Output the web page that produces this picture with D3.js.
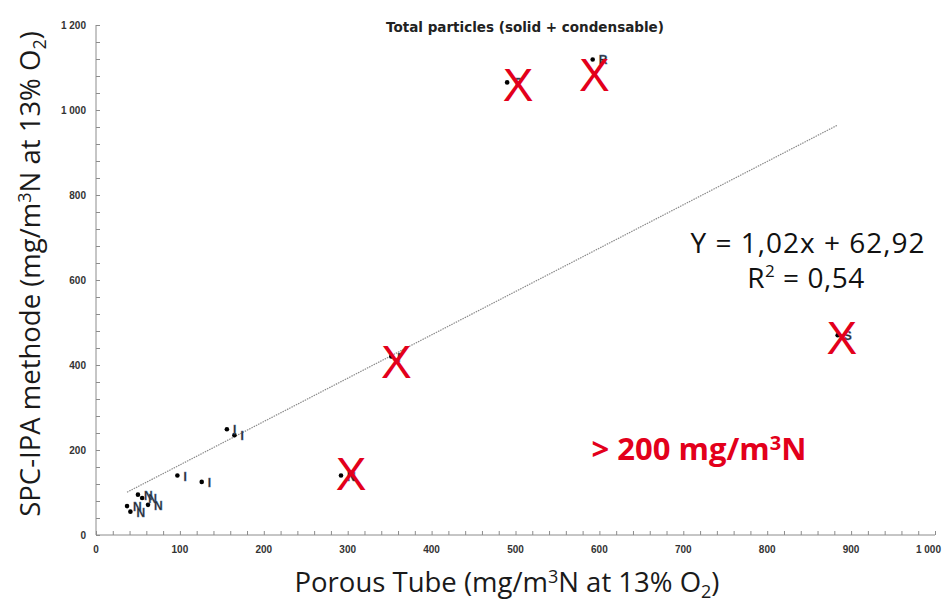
<!DOCTYPE html>
<html><head><meta charset="utf-8">
<script src="https://cdn.jsdelivr.net/npm/d3@7"></script>
<style>body{margin:0;background:#fff}svg{display:block}</style>
</head><body>
<script>
// Data
const xValues = [37, 41, 50, 55, 62, 97, 126, 156, 165, 292, 352, 490, 592, 884];
const yValues = [68, 55, 95, 87, 71, 140, 125, 249, 235, 140, 420, 1065, 1119, 470];
const pointLabels = ["N", "N", "N", "N", "N", "I", "I", "I", "I", "N", "I", "T", "R", "S"];
const crossX = [503, 594, 358, 304, 889];
const crossY = [1059, 1082, 407, 143, 463];
const xTicks = [0, 100, 200, 300, 400, 500, 600, 700, 800, 900, 1000];
const yTicks = [0, 200, 400, 600, 800, 1000, 1200];
const slope = 1.02, intercept = 62.92;

const W = 943, H = 609;
const svg = d3.select("body").append("svg").attr("width", W).attr("height", H);
const x = d3.scaleLinear().domain([0, 1000]).range([96, 935]);
const y = d3.scaleLinear().domain([0, 1200]).range([535, 25]);
const fmt = v => d3.format(",")(v).replace(",", " ");
const axisColor = "#8c8c8c";

// minor ticks
const gx = svg.append("g").attr("transform", `translate(0,${y(0)})`)
  .call(d3.axisBottom(x).tickValues(d3.range(0, 1001, 20)).tickSize(-4).tickFormat(""));
const gy = svg.append("g").attr("transform", `translate(${x(0)},0)`)
  .call(d3.axisLeft(y).tickValues(d3.range(0, 1201, 40)).tickSize(-4).tickFormat(""));
[gx, gy].forEach(g => {
  g.selectAll("path.domain").attr("stroke", axisColor);
  g.selectAll("line").attr("stroke", axisColor);
});
gx.select("path.domain").attr("d", `M${x(0)},0H${x(1000)}`);
gy.select("path.domain").attr("d", `M0,${y(0)}V${y(1200)}`);

// tick labels
svg.append("g").selectAll("text").data(xTicks).join("text")
  .attr("x", d => d === 1000 ? 941 : x(d)).attr("y", 553)
  .attr("text-anchor", d => d === 1000 ? "end" : "middle")
  .attr("font-family", "Liberation Sans Narrow, Liberation Sans, sans-serif").attr("font-weight", "bold")
  .attr("font-size", 10).attr("fill", "#333").text(fmt);
svg.append("g").selectAll("text").data(yTicks).join("text")
  .attr("x", 86).attr("y", d => y(d) + 3.5).attr("text-anchor", "end")
  .attr("font-family", "Liberation Sans Narrow, Liberation Sans, sans-serif").attr("font-weight", "bold")
  .attr("font-size", 10).attr("fill", "#333").text(fmt);

// trend line
const xMin = d3.min(xValues), xMax = d3.max(xValues);
svg.append("line")
  .attr("x1", x(xMin)).attr("y1", y(slope * xMin + intercept))
  .attr("x2", x(xMax)).attr("y2", y(slope * xMax + intercept))
  .attr("stroke", "#8a8a8a").attr("stroke-width", 1.2).attr("stroke-dasharray", "1.5,1");

// points
const pts = xValues.map((v, i) => ({x: v, y: yValues[i], l: pointLabels[i]}));
svg.append("g").selectAll("circle").data(pts).join("circle")
  .attr("cx", d => x(d.x)).attr("cy", d => y(d.y)).attr("r", 2.3).attr("fill", "#000");
svg.append("g").selectAll("text").data(pts).join("text")
  .attr("x", d => x(d.x) + 6).attr("y", d => y(d.y) + 5)
  .attr("font-family", "Liberation Sans, sans-serif").attr("font-weight", "bold")
  .attr("font-size", 12).attr("fill", "#2b2b2b").attr("stroke", "#4a6fa5").attr("stroke-width", 0.3)
  .text(d => d.l);

// red crosses
svg.append("g").selectAll("text").data(crossX.map((v, i) => ({x: v, y: crossY[i]}))).join("text")
  .attr("x", d => x(d.x)).attr("y", d => y(d.y) + 16).attr("text-anchor", "middle")
  .attr("font-family", "Liberation Sans, sans-serif").attr("font-size", 46)
  .attr("fill", "#e3001b").text("X");

// title
svg.append("text").attr("x", 525).attr("y", 32).attr("text-anchor", "middle")
  .attr("font-family", "DejaVu Sans, sans-serif").attr("font-weight", "bold").attr("font-size", 13.5)
  .attr("fill", "#222").text("Total particles (solid + condensable)");

// equation
const eq = svg.append("g").attr("font-family", "Open Sans, sans-serif").attr("font-size", 28)
  .attr("fill", "#111").attr("text-anchor", "middle");
eq.append("text").attr("x", 808).attr("y", 253).attr("letter-spacing", 1).text("Y = 1,02x + 62,92");
const r2 = eq.append("text").attr("x", 806).attr("y", 288).attr("letter-spacing", 0.5);
r2.append("tspan").text("R");
r2.append("tspan").attr("font-size", 17).attr("dy", -11).text("2");
r2.append("tspan").attr("dy", 11).text(" = 0,54");

// > 200 annotation
const ann = svg.append("text").attr("x", 699).attr("y", 460).attr("text-anchor", "middle")
  .attr("font-family", "Open Sans, sans-serif").attr("font-weight", "bold").attr("font-size", 31).attr("fill", "#e3001b");
ann.append("tspan").text("> 200 mg/m");
ann.append("tspan").attr("font-size", 20).attr("dy", -10).text("3");
ann.append("tspan").attr("dy", 10).text("N");

// axis titles
const xt = svg.append("text").attr("x", 507).attr("y", 592).attr("text-anchor", "middle")
  .attr("font-family", "Open Sans, sans-serif").attr("font-size", 27.5).attr("fill", "#1a1a1a");
xt.append("tspan").text("Porous Tube (mg/m");
xt.append("tspan").attr("font-size", 18).attr("dy", -9).text("3");
xt.append("tspan").attr("dy", 9).text("N at 13% O");
xt.append("tspan").attr("font-size", 18).attr("dy", 6).text("2");
xt.append("tspan").attr("dy", -6).text(")");

const yt = svg.append("text").attr("transform", "translate(40,274) rotate(-90)").attr("text-anchor", "middle")
  .attr("font-family", "Open Sans, sans-serif").attr("font-size", 27.5).attr("fill", "#1a1a1a");
yt.append("tspan").text("SPC-IPA methode (mg/m");
yt.append("tspan").attr("font-size", 18).attr("dy", -9).text("3");
yt.append("tspan").attr("dy", 9).text("N at 13% O");
yt.append("tspan").attr("font-size", 18).attr("dy", 6).text("2");
yt.append("tspan").attr("dy", -6).text(")");
</script>
</body></html>
